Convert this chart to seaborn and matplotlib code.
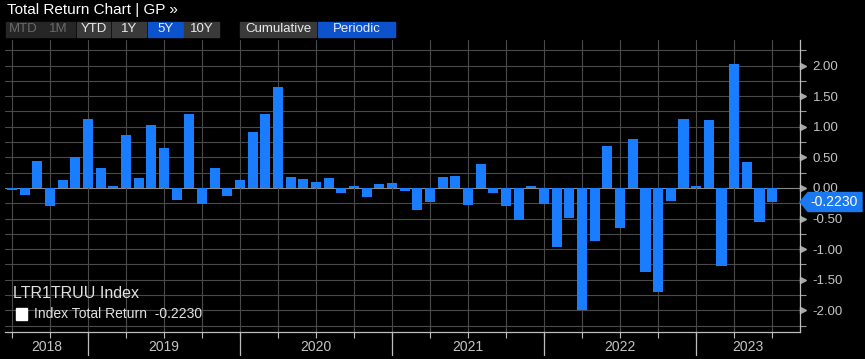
import numpy as np
import pandas as pd
import seaborn as sns
import matplotlib.pyplot as plt
import matplotlib.transforms as mtransforms
from matplotlib.patches import Rectangle, Polygon

# Monatliche Total-Returns (Jun 2018 .. Jun 2023)
months = pd.date_range("2018-06-30", periods=61, freq="ME")
returns = [
    -0.04, -0.11, 0.44, -0.29, 0.13, 0.50, 1.13, 0.33, 0.03, 0.87, 0.16, 1.03,
    0.66, -0.20, 1.21, -0.26, 0.33, -0.13, 0.13, 0.92, 1.21, 1.65, 0.18, 0.15,
    0.09, 0.17, -0.08, 0.03, -0.14, 0.07, 0.08, -0.05, -0.36, -0.23, 0.18, 0.20,
    -0.27, 0.40, -0.09, -0.30, -0.52, 0.03, -0.26, -0.96, -0.49, -1.99, -0.86, 0.68,
    -0.66, 0.80, -1.37, -1.70, -0.21, 1.13, 0.03, 1.11, -1.27, 2.03, 0.42, -0.56,
    -0.2230,
]
years = ["2018", "2019", "2020", "2021", "2022", "2023"]
y_ticks = [-2.0, -1.5, -1.0, -0.5, 0.0, 0.5, 1.0, 1.5, 2.0]
last_value = -0.2230
period_buttons = ["MTD", "1M", "YTD", "1Y", "5Y", "10Y"]
mode_buttons = ["Cumulative", "Periodic"]

df = pd.DataFrame({"month": months.strftime("%Y-%m"), "ret": returns})

BLUE = "#1a7cff"
GRID = "#4a4a4a"
TXT = "#c4c4c4"

sns.set_theme(style="dark", rc={
    "figure.facecolor": "black",
    "axes.facecolor": "black",
    "savefig.facecolor": "black",
})
plt.rcParams["font.family"] = ["Liberation Sans", "DejaVu Sans"]

W, H = 865, 359
fig = plt.figure(figsize=(W / 100, H / 100), dpi=100)
ax = fig.add_axes([5 / W, 27 / H, 795 / W, 292 / H])

sns.barplot(data=df, x="month", y="ret", color=BLUE, saturation=1,
            width=0.8, errorbar=None, linewidth=0, ax=ax, zorder=3)

n = len(df)
ax.set_xlim(-0.55, 62.2)
ax.set_ylim(-2.353, 2.418)

# Gitter
for v in np.arange(-2.25, 2.26, 0.25):
    ax.axhline(v, color="#8a8a8a" if abs(v) < 1e-9 else GRID, lw=0.8, zorder=1)
for q in range(0, n, 3):
    ax.axvline(q, color=GRID, lw=0.8, zorder=1)

# Achsen
for s in ["left", "top"]:
    ax.spines[s].set_visible(False)
for s in ["right", "bottom"]:
    ax.spines[s].set_visible(True)
    ax.spines[s].set_color("#bdbdbd")
    ax.spines[s].set_linewidth(0.9)

ax.set_xticks(range(0, n, 3))
ax.set_xticklabels([])
ax.tick_params(axis="x", length=4, color="#bdbdbd", width=0.8, bottom=True)

ax.yaxis.tick_right()
ax.set_yticks(y_ticks)
ax.set_yticklabels([f"{t:.2f}" for t in y_ticks])
ax.set_yticks(np.arange(-2.25, 2.26, 0.25), minor=True)
ax.tick_params(axis="y", which="major", length=0, pad=9, labelsize=9.5,
               labelcolor=TXT, right=True)
ax.tick_params(axis="y", which="minor", length=4, width=0.8, color="#9a9a9a",
               direction="out", right=True)
ax.set_xlabel("")
ax.set_ylabel("")

trans_y = mtransforms.blended_transform_factory(ax.transAxes, ax.transData)
ax.plot([1.004] * len(y_ticks), y_ticks, ">", color="#a8a8a8", markersize=4,
        transform=trans_y, clip_on=False)

# Jahrestrenner und Beschriftung
trans_x = mtransforms.blended_transform_factory(ax.transData, ax.transAxes)
bounds = [-0.55, 6, 18, 30, 42, 54, 62.2]
for b in bounds[1:-1]:
    ax.plot([b, b], [0, -0.08], color="#bdbdbd", lw=0.9, transform=trans_x,
            clip_on=False)
for i, yr in enumerate(years):
    ax.text((bounds[i] + bounds[i + 1]) / 2, -0.052, yr, transform=trans_x,
            ha="center", va="center", fontsize=10, color=TXT)

# Wertmarke rechts
tag_y = 1 - 202 / H
fig.patches.append(Polygon(
    [(800 / W, tag_y), (808 / W, tag_y + 9.5 / H), (862 / W, tag_y + 9.5 / H),
     (862 / W, tag_y - 9.5 / H), (808 / W, tag_y - 9.5 / H)],
    closed=True, transform=fig.transFigure, color="#1a78f0", zorder=5))
fig.text(834 / W, tag_y, f"{last_value:.4f}", ha="center", va="center",
         fontsize=10, color="white", zorder=6)

# Legende
fig.text(13 / W, 1 - 293 / H, "LTR1TRUU Index", fontsize=11.5, color="#e2e2e2",
         va="center")
fig.patches.append(Rectangle((16 / W, 1 - 320 / H), 11 / W, 12 / H,
                             transform=fig.transFigure, color="white"))
fig.text(34 / W, 1 - 314 / H, f"Index Total Return  {last_value:.4f}",
         fontsize=10, color="#e2e2e2", va="center")

# Kopfzeile
fig.text(7 / W, 1 - 10 / H, "Total Return Chart | GP \u00bb", fontsize=11,
         color="white", va="center")
btn_x = [(6, 40), (41, 75), (77, 110), (112, 146), (148, 183), (184, 219)]
for (x0, x1), lab in zip(btn_x, period_buttons):
    disabled = lab in ("MTD", "1M")
    active = lab == "5Y"
    bg = "#0b52cc" if active else ("#262626" if disabled else "#3a3a3a")
    fc = "#6a6a6a" if disabled else "#ececec"
    fig.patches.append(Rectangle((x0 / W, 1 - 37 / H), (x1 - x0) / W, 15 / H,
                                 transform=fig.transFigure, color=bg))
    fig.text((x0 + x1) / 2 / W, 1 - 29.5 / H, lab, ha="center", va="center",
             fontsize=9.5, color=fc)
mode_x = [(240, 316), (318, 395)]
for (x0, x1), lab in zip(mode_x, mode_buttons):
    bg = "#0b52cc" if lab == "Periodic" else "#3a3a3a"
    fig.patches.append(Rectangle((x0 / W, 1 - 37 / H), (x1 - x0) / W, 15 / H,
                                 transform=fig.transFigure, color=bg))
    fig.text((x0 + x1) / 2 / W, 1 - 29.5 / H, lab, ha="center", va="center",
             fontsize=9.5, color="#ececec")

plt.savefig("out.png", dpi=100, facecolor="black")
